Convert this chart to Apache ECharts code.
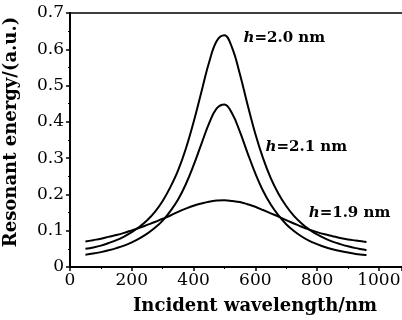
<!DOCTYPE html>
<html>
<head>
<meta charset="utf-8">
<script src="https://cdn.jsdelivr.net/npm/echarts@6/dist/echarts.min.js"></script>
<style>
  html, body { margin: 0; padding: 0; background: #fff; }
  #app { width: 402px; height: 320px; }
</style>
</head>
<body>
<div id="app"></div>
<script>
// wavelength samples (nm)
const wavelengths = [50, 75, 100, 125, 150, 175, 200, 225, 250, 275, 300, 325, 350, 375, 400, 425, 450, 475,
  500, 525, 550, 575, 600, 625, 650, 675, 700, 725, 750, 775, 800, 825, 850, 875, 900, 925, 950, 960];

// h = 2.0 nm
const energyH20 = [0.050, 0.054, 0.059, 0.066, 0.074, 0.084, 0.096, 0.111, 0.129, 0.152, 0.182, 0.220, 0.266, 0.326,
  0.399, 0.481, 0.563, 0.623, 0.639, 0.604, 0.532, 0.447, 0.367, 0.300, 0.245, 0.202, 0.168, 0.141, 0.120, 0.103,
  0.090, 0.079, 0.070, 0.063, 0.057, 0.052, 0.048, 0.046];

// h = 2.1 nm
const energyH21 = [0.034, 0.037, 0.041, 0.046, 0.052, 0.059, 0.068, 0.079, 0.092, 0.108, 0.128, 0.154, 0.186, 0.228,
  0.280, 0.338, 0.395, 0.437, 0.448, 0.423, 0.373, 0.314, 0.258, 0.210, 0.172, 0.142, 0.118, 0.099, 0.084, 0.072,
  0.063, 0.055, 0.049, 0.044, 0.040, 0.036, 0.034, 0.033];

// h = 1.9 nm
const energyH19 = [0.070, 0.074, 0.078, 0.083, 0.088, 0.094, 0.101, 0.108, 0.116, 0.124, 0.133, 0.142, 0.152, 0.161,
  0.169, 0.175, 0.180, 0.183, 0.184, 0.182, 0.179, 0.173, 0.166, 0.157, 0.148, 0.139, 0.129, 0.120, 0.111, 0.103,
  0.096, 0.090, 0.085, 0.080, 0.076, 0.073, 0.070, 0.069];

const seriesNames = ['h=2.0 nm', 'h=2.1 nm', 'h=1.9 nm'];
const labelText = ['=2.0 nm', '=2.1 nm', '=1.9 nm'];
const labelX = [562, 633, 773];
const labelY = [0.63, 0.33, 0.149];

const xTicks = [0, 200, 400, 600, 800, 1000];

const chart = echarts.init(document.getElementById('app'));

const serif = 'DejaVu Serif';

const makeSeries = (name, values, i) => ({
  name: name,
  type: 'line',
  smooth: 0.4,
  showSymbol: false,
  data: wavelengths.map((w, k) => [w, values[k]]),
  lineStyle: { color: '#000', width: 2 },
  itemStyle: { color: '#000' },
  markPoint: {
    symbol: 'circle',
    symbolSize: 0,
    data: [{ coord: [labelX[i], labelY[i]] }],
    label: {
      show: true,
      position: [0, 0],
      align: 'left',
      verticalAlign: 'middle',
      formatter: '{i|h}{b|' + labelText[i] + '}',
      rich: {
        i: { fontFamily: serif, fontStyle: 'italic', fontWeight: 'bold', fontSize: 15, color: '#000' },
        b: { fontFamily: serif, fontWeight: 'bold', fontSize: 15, color: '#000' }
      }
    }
  }
});

chart.setOption({
  animation: false,
  backgroundColor: '#fff',
  grid: { left: 70, top: 13, right: 0, bottom: 53, outerBoundsMode: 'none' },
  xAxis: [
    {
      type: 'value',
      min: 0,
      max: 1075,
      interval: 200,
      name: 'Incident wavelength/nm',
      nameLocation: 'middle',
      nameGap: 30,
      nameTextStyle: { fontFamily: serif, fontWeight: 'bold', fontSize: 18, color: '#000', padding: [0, 0, 0, 38] },
      axisLine: { show: true, lineStyle: { color: '#000', width: 2 } },
      axisTick: { show: true, inside: false, length: 4, lineStyle: { color: '#000', width: 1.5 } },
      minorTick: { show: true, splitNumber: 2, length: 2, lineStyle: { color: '#000' } },
      axisLabel: {
        fontFamily: serif, fontSize: 17, color: '#000', margin: 5,
        showMaxLabel: false,
        formatter: (v) => (xTicks.indexOf(v) >= 0 ? String(v) : '')
      },
      splitLine: { show: false }
    },
    {
      type: 'value',
      position: 'top',
      min: 0,
      max: 1075,
      axisLine: { show: true, lineStyle: { color: '#000', width: 1.5 } },
      axisTick: { show: false },
      axisLabel: { show: false },
      splitLine: { show: false }
    }
  ],
  yAxis: {
    type: 'value',
    min: 0,
    max: 0.7,
    interval: 0.1,
    name: 'Resonant energy/(a.u.)',
    nameLocation: 'middle',
    nameGap: 50,
    nameTextStyle: { fontFamily: serif, fontWeight: 'bold', fontSize: 18, color: '#000', padding: [0, 0, 0, 16] },
    axisLine: { show: true, lineStyle: { color: '#000', width: 2 } },
    axisTick: { show: true, inside: false, length: 4, lineStyle: { color: '#000', width: 1.5 } },
    minorTick: { show: true, splitNumber: 2, length: 2, lineStyle: { color: '#000' } },
    axisLabel: { fontFamily: serif, fontSize: 17, color: '#000', margin: 6 },
    splitLine: { show: false }
  },
  series: [
    makeSeries(seriesNames[0], energyH20, 0),
    makeSeries(seriesNames[1], energyH21, 1),
    makeSeries(seriesNames[2], energyH19, 2)
  ]
});
</script>
</body>
</html>
